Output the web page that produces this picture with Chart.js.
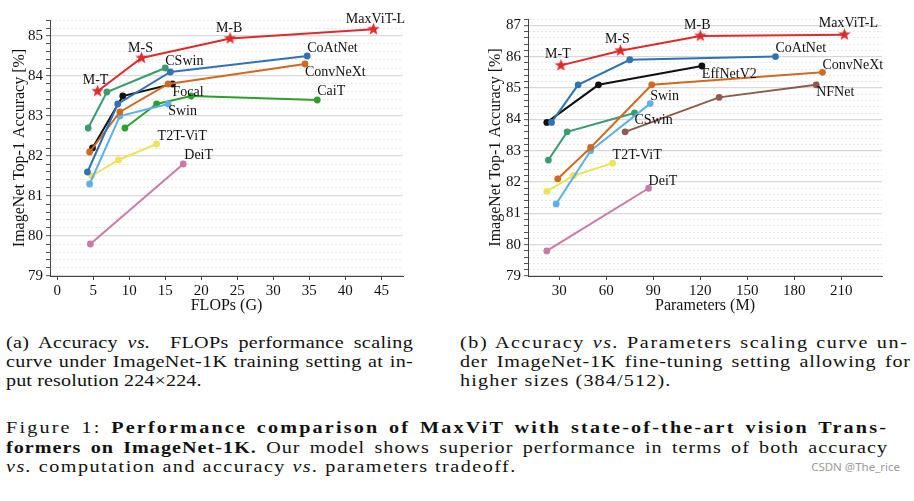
<!DOCTYPE html>
<html><head><meta charset="utf-8">
<script src="https://cdn.jsdelivr.net/npm/chart.js@4.4.1/dist/chart.umd.min.js"></script>
<style>
html,body{margin:0;padding:0;background:#fff;width:914px;height:501px;overflow:hidden;position:relative;}
canvas{position:absolute;top:0;}
.cap{position:absolute;font-family:'Liberation Serif','DejaVu Serif',serif;font-size:17.5px;line-height:19px;color:#111;white-space:nowrap;letter-spacing:0.3px;transform:scaleX(1.15);transform-origin:0 0;}
.j{text-align:justify;text-align-last:justify;white-space:normal;}
.wm{position:absolute;font-family:"Noto Sans","DejaVu Sans",sans-serif;font-size:11.5px;color:#9a9a9a;right:14px;top:459px;}
</style></head><body>
<canvas id="ca" width="457" height="320" style="left:0"></canvas>
<canvas id="cb" width="457" height="320" style="left:457px"></canvas>

<div class="cap j" style="left:6px;top:333px;width:354px">(a) Accuracy <i>vs.</i>&nbsp; FLOPs performance scaling</div>
<div class="cap j" style="left:6px;top:352px;width:354px">curve under ImageNet-1K training setting at in-</div>
<div class="cap" style="left:6px;top:371px;letter-spacing:0.1px">put resolution 224×224.</div>

<div class="cap j" style="left:460px;top:333px;width:390px;letter-spacing:1.4px">(b) Accuracy <i>vs.</i> Parameters scaling curve un-</div>
<div class="cap j" style="left:460px;top:352px;width:392px;letter-spacing:0.7px">der ImageNet-1K fine-tuning setting allowing for</div>
<div class="cap" style="left:460px;top:371px;letter-spacing:1.0px">higher sizes (384/512).</div>

<div class="cap j" style="left:6px;top:418px;width:767px;letter-spacing:1.9px">Figure 1: <b>Performance comparison of MaxViT with state-of-the-art vision Trans-</b></div>
<div class="cap j" style="left:6px;top:438px;width:767px;letter-spacing:0.9px"><b>formers on ImageNet-1K.</b> Our model shows superior performance in terms of both accuracy</div>
<div class="cap" style="left:6px;top:457px;letter-spacing:1.3px"><i>vs.</i> computation and accuracy <i>vs.</i> parameters tradeoff.</div>
<div class="wm">CSDN @The_rice</div>

<script>
// ---------- Chart (a): Accuracy vs FLOPs ----------
const aSeries = ['MaxViT','CoAtNet','ConvNeXt','Swin','CSwin','Focal','CaiT','T2T-ViT','DeiT'];
const maxvitNames = ['M-T','M-S','M-B','MaxViT-L'];
const aMaxViTX = [5.6, 11.7, 24.0, 43.9];
const aMaxViTY = [83.62, 84.45, 84.94, 85.17];
const aCoAtNetX = [4.2, 8.4, 15.7, 34.7];
const aCoAtNetY = [81.6, 83.3, 84.1, 84.5];
const aConvNeXtX = [4.5, 8.7, 15.4, 34.4];
const aConvNeXtY = [82.1, 83.1, 83.8, 84.3];
const aSwinX = [4.5, 8.7, 15.4];
const aSwinY = [81.3, 83.0, 83.3];
const aCSwinX = [4.3, 6.9, 15.0];
const aCSwinY = [82.7, 83.6, 84.2];
const aFocalX = [4.9, 9.1, 16.0];
const aFocalY = [82.2, 83.5, 83.8];
const aCaiTX = [9.4, 13.8, 18.6, 36.1];
const aCaiTY = [82.7, 83.3, 83.5, 83.4];
const aT2TX = [4.8, 8.5, 13.8];
const aT2TY = [81.5, 81.9, 82.3];
const aDeiTX = [4.6, 17.5];
const aDeiTY = [79.8, 81.8];
const aXTicks = [0, 5, 10, 15, 20, 25, 30, 35, 40, 45];
const aYTicks = [79, 80, 81, 82, 83, 84, 85];

// ---------- Chart (b): Accuracy vs Parameters ----------
const bSeries = ['MaxViT','CoAtNet','EffNetV2','ConvNeXt','Swin','CSwin','NFNet','T2T-ViT','DeiT'];
const bMaxViTX = [31, 69, 120, 212];
const bMaxViTY = [85.72, 86.19, 86.66, 86.70];
const bCoAtNetX = [25, 42, 75, 168];
const bCoAtNetY = [83.9, 85.1, 85.9, 86.0];
const bEffNetX = [22, 55, 121];
const bEffNetY = [83.9, 85.1, 85.7];
const bConvNeXtX = [29, 50, 89, 198];
const bConvNeXtY = [82.1, 83.1, 85.1, 85.5];
const bSwinX = [28, 50, 88];
const bSwinY = [81.3, 83.0, 84.5];
const bCSwinX = [23, 35, 78];
const bCSwinY = [82.7, 83.6, 84.2];
const bNFNetX = [72, 132, 194];
const bNFNetY = [83.6, 84.7, 85.1];
const bT2TX = [22, 39, 64];
const bT2TY = [81.7, 82.2, 82.6];
const bDeiTX = [22, 87];
const bDeiTY = [79.8, 81.8];
const bXTicks = [30, 60, 90, 120, 150, 180, 210];
const bYTicks = [79, 80, 81, 82, 83, 84, 85, 86, 87];

// ---------- styles ----------
const SERIF = '"Liberation Serif","Times New Roman",serif';
const C = {
  red:'#df2a2c', blue:'#2f73b4', orange:'#d06a22', lblue:'#5eb1e6', teal:'#3b9a70',
  black:'#111111', green:'#2ca02c', yellow:'#ece35a', pink:'#c97aa6', brown:'#8e5a4b'
};

function makeStar(color, R) {
  const s = Math.ceil(R * 2 + 2);
  const c = document.createElement('canvas'); c.width = s; c.height = s;
  const g = c.getContext('2d'); g.fillStyle = color; g.beginPath();
  for (let i = 0; i < 10; i++) {
    const r = i % 2 ? R * 0.42 : R; const a = -Math.PI / 2 + i * Math.PI / 5;
    g.lineTo(s / 2 + r * Math.cos(a), s / 2 + r * Math.sin(a));
  }
  g.closePath(); g.fill(); return c;
}
const starImg = makeStar(C.red, 6.5);

function ds(xs, ys, color, star) {
  return {
    data: xs.map((x, i) => ({x, y: ys[i]})),
    borderColor: color, backgroundColor: color, borderWidth: 2,
    pointRadius: star ? 6 : 3.4, pointStyle: star ? starImg : 'circle',
    pointBorderWidth: 0, tension: 0, clip: false
  };
}

function near(list, v) { return list.some(t => Math.abs(t - v) < 1e-6); }

function yScale(min, max, ticksList, width) {
  const maj = c => c.tick && near(ticksList, c.tick.value);
  return {
    type: 'linear', min, max,
    afterFit: s => { s.width = width; },
    ticks: { stepSize: 0.2, autoSkip: false, color: '#111', padding: 3,
      font: {family: SERIF, size: 15},
      callback: v => near(ticksList, v) ? String(Math.round(v)) : '' },
    grid: { drawOnChartArea: true, drawTicks: true, tickLength: 4,
      color: c => maj(c) ? '#d8d8d8' : '#e6e6e6',
      lineWidth: c => maj(c) ? 1.3 : 0.9,
      tickColor: '#555', tickWidth: 1 },
    border: { display: true, color: '#444', width: 1,
      dash: c => (c.tick && !maj(c)) ? [2, 2] : [] }
  };
}
function xScale(min, max, ticksList, height) {
  return {
    type: 'linear', min, max,
    afterFit: s => { s.height = height; },
    afterBuildTicks: s => { s.ticks = ticksList.map(v => ({value: v})); },
    ticks: { autoSkip: false, maxRotation: 0, color: '#111', padding: 2,
      font: {family: SERIF, size: 15} },
    grid: { drawOnChartArea: false, drawTicks: true, tickLength: 4, tickColor: '#444' },
    border: { display: true, color: '#444', width: 1 }
  };
}

function overlay(labels, xTitle, yTitle, yTitleX) {
  return { id: 'ov', afterDatasetsDraw(chart) {
    const ctx = chart.ctx; ctx.save(); ctx.fillStyle = '#111';
    ctx.font = `14px ${SERIF}`; ctx.textBaseline = 'middle';
    labels.forEach(l => {
      const el = chart.getDatasetMeta(l.ds).data[l.i];
      ctx.textAlign = l.align; ctx.fillText(l.text, el.x + l.dx, el.y + l.dy);
    });
    const a = chart.chartArea;
    ctx.font = `16px ${SERIF}`; ctx.textAlign = 'center';
    ctx.fillText(xTitle, (a.left + a.right) / 2, a.bottom + 30);
    ctx.translate(yTitleX, (a.top + a.bottom) / 2); ctx.rotate(-Math.PI / 2);
    ctx.fillText(yTitle, 0, 0);
    ctx.restore();
  }};
}

function L(text, ds, i, dx, dy, align) { return {text, ds, i, dx, dy, align}; }

// ----- chart (a) -----
const aLabels = [
  L(maxvitNames[0], 0, 0, -2, -11, 'center'),
  L(maxvitNames[1], 0, 1, -1, -10, 'center'),
  L(maxvitNames[2], 0, 2, -1, -10, 'center'),
  L(maxvitNames[3], 0, 3, 2, -10, 'center'),
  L(aSeries[1], 1, 3, 0, -8, 'left'),
  L(aSeries[2], 2, 3, 0, 8, 'left'),
  L(aSeries[3], 3, 2, 0, 7, 'left'),
  L(aSeries[4], 4, 2, 0, -7, 'left'),
  L(aSeries[5], 5, 2, 0, 8, 'left'),
  L(aSeries[6], 6, 3, 0, -9, 'left'),
  L(aSeries[7], 7, 2, 1, -8, 'left'),
  L(aSeries[8], 8, 1, 1, -9, 'left')
];
new Chart(document.getElementById('ca'), {
  type: 'line',
  data: { datasets: [
    ds(aMaxViTX, aMaxViTY, C.red, true),
    ds(aCoAtNetX, aCoAtNetY, C.blue),
    ds(aConvNeXtX, aConvNeXtY, C.orange),
    ds(aSwinX, aSwinY, C.lblue),
    ds(aCSwinX, aCSwinY, C.teal),
    ds(aFocalX, aFocalY, C.black),
    ds(aCaiTX, aCaiTY, C.green),
    ds(aT2TX, aT2TY, C.yellow),
    ds(aDeiTX, aDeiTY, C.pink)
  ]},
  options: {
    responsive: false, animation: false, devicePixelRatio: 1, events: [],
    layout: { padding: {left: 0, right: 54, top: 20, bottom: 0} },
    plugins: { legend: {display: false}, tooltip: {enabled: false} },
    scales: { x: xScale(-1, 48, aXTicks, 44), y: yScale(79, 85.4, aYTicks, 50) }
  },
  plugins: [overlay(aLabels, 'FLOPs (G)', 'ImageNet Top-1 Accuracy [%]', 20)]
});

// ----- chart (b) -----
const bLabels = [
  L(maxvitNames[0], 0, 0, -3, -11, 'center'),
  L(maxvitNames[1], 0, 1, -3, -11, 'center'),
  L(maxvitNames[2], 0, 2, -3, -11, 'center'),
  L(maxvitNames[3], 0, 3, 4, -11, 'center'),
  L(bSeries[1], 1, 3, 0, -8, 'left'),
  L(bSeries[2], 2, 2, 0, 8, 'left'),
  L(bSeries[3], 3, 3, 0, -7, 'left'),
  L(bSeries[4], 4, 2, 0, -7, 'left'),
  L(bSeries[5], 5, 2, 0, 7, 'left'),
  L(bSeries[6], 6, 2, 0, 8, 'left'),
  L(bSeries[7], 7, 2, 0, -8, 'left'),
  L(bSeries[8], 8, 1, 0, -7, 'left')
];
new Chart(document.getElementById('cb'), {
  type: 'line',
  data: { datasets: [
    ds(bMaxViTX, bMaxViTY, C.red, true),
    ds(bCoAtNetX, bCoAtNetY, C.blue),
    ds(bEffNetX, bEffNetY, C.black),
    ds(bConvNeXtX, bConvNeXtY, C.orange),
    ds(bSwinX, bSwinY, C.lblue),
    ds(bCSwinX, bCSwinY, C.teal),
    ds(bNFNetX, bNFNetY, C.brown),
    ds(bT2TX, bT2TY, C.yellow),
    ds(bDeiTX, bDeiTY, C.pink)
  ]},
  options: {
    responsive: false, animation: false, devicePixelRatio: 1, events: [],
    layout: { padding: {left: 0, right: 32, top: 19, bottom: 0} },
    plugins: { legend: {display: false}, tooltip: {enabled: false} },
    scales: { x: xScale(10, 236, bXTicks, 44), y: yScale(79, 87.2, bYTicks, 71) }
  },
  plugins: [overlay(bLabels, 'Parameters (M)', 'ImageNet Top-1 Accuracy [%]', 39)]
});
</script>
</body></html>
